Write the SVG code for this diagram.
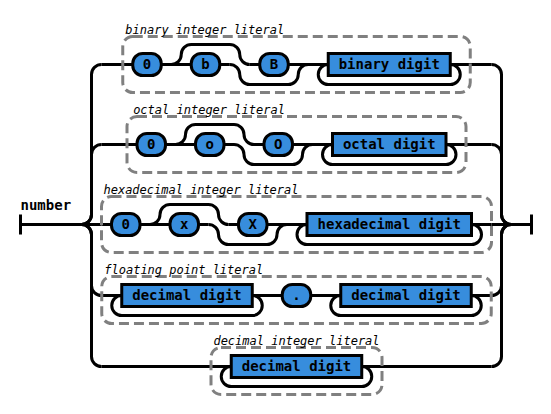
<svg xmlns="http://www.w3.org/2000/svg" width="551" height="414" viewBox="0 0 551 414">
<style>
path{stroke:#000;stroke-width:3;fill:none}
rect.t,rect.n{stroke:#000;stroke-width:3;fill:#378ddd}
rect.g{stroke:#808080;stroke-width:3;stroke-dasharray:10 5;fill:none}
text{font-family:"DejaVu Sans Mono","Liberation Mono",monospace;font-size:14px;font-weight:bold;text-anchor:middle;fill:#000}
text.c{font-size:12px;font-weight:normal;font-style:italic}
text.l{text-anchor:start}
</style>
<rect width="551" height="414" fill="#fff"/>
<g transform="translate(.5 .5)">
<g id="connectors">
<path d="M20 214v20m0 -10h61"/>
<path d="M81 224a10 10 0 0 0 10 -10V74a10 10 0 0 1 10 -10"/>
<path d="M81 224a10 10 0 0 0 10 -10V154a10 10 0 0 1 10 -10"/>
<path d="M81 224h20"/>
<path d="M81 224a10 10 0 0 1 10 10V285a10 10 0 0 0 10 10"/>
<path d="M81 224a10 10 0 0 1 10 10V356a10 10 0 0 0 10 10"/>
<path d="M491 64a10 10 0 0 1 10 10V214a10 10 0 0 0 10 10"/>
<path d="M491 144a10 10 0 0 1 10 10V214a10 10 0 0 0 10 10"/>
<path d="M491 224h20"/>
<path d="M491 295a10 10 0 0 0 10 -10V234a10 10 0 0 1 10 -10"/>
<path d="M491 366a10 10 0 0 0 10 -10V234a10 10 0 0 1 10 -10"/>
<path d="M511 224h20m0 -10v20"/>
<!-- binary -->
<path d="M101 64H229.25M249.25 64H491"/>
<path d="M170.75 64a10 10 0 0 0 10 -10a10 10 0 0 1 10 -10H229.25a10 10 0 0 1 10 10a10 10 0 0 0 10 10"/>
<path d="M229.25 64a10 10 0 0 1 10 10a10 10 0 0 0 10 10H287.75a10 10 0 0 0 10 -10a10 10 0 0 1 10 -10"/>
<path d="M327.75 64a10 10 0 0 0 -10 10a10 10 0 0 0 10 10H449.75a10 10 0 0 0 10 -10a10 10 0 0 0 -10 -10"/>
<!-- octal -->
<path d="M101 144H233.5M253.5 144H491"/>
<path d="M175 144a10 10 0 0 0 10 -10a10 10 0 0 1 10 -10H233.5a10 10 0 0 1 10 10a10 10 0 0 0 10 10"/>
<path d="M233.5 144a10 10 0 0 1 10 10a10 10 0 0 0 10 10H292a10 10 0 0 0 10 -10a10 10 0 0 1 10 -10"/>
<path d="M332 144a10 10 0 0 0 -10 10a10 10 0 0 0 10 10H445.5a10 10 0 0 0 10 -10a10 10 0 0 0 -10 -10"/>
<!-- hex -->
<path d="M101 224H208M228 224H491"/>
<path d="M149.5 224a10 10 0 0 0 10 -10a10 10 0 0 1 10 -10H208a10 10 0 0 1 10 10a10 10 0 0 0 10 10"/>
<path d="M208 224a10 10 0 0 1 10 10a10 10 0 0 0 10 10H266.5a10 10 0 0 0 10 -10a10 10 0 0 1 10 -10"/>
<path d="M306.5 224a10 10 0 0 0 -10 10a10 10 0 0 0 10 10H471a10 10 0 0 0 10 -10a10 10 0 0 0 -10 -10"/>
<!-- float -->
<path d="M101 295H491"/>
<path d="M121.25 295a10 10 0 0 0 -10 10a10 10 0 0 0 10 10H251.75a10 10 0 0 0 10 -10a10 10 0 0 0 -10 -10"/>
<path d="M340.25 295a10 10 0 0 0 -10 10a10 10 0 0 0 10 10H470.75a10 10 0 0 0 10 -10a10 10 0 0 0 -10 -10"/>
<!-- decimal -->
<path d="M101 366H491"/>
<path d="M230.75 366a10 10 0 0 0 -10 10a10 10 0 0 0 10 10H361.25a10 10 0 0 0 10 -10a10 10 0 0 0 -10 -10"/>
</g>
<g id="start"><text class="l" x="20" y="209">number</text></g>
<g id="binary-integer-literal"><rect class="g" x="122.25" y="36" width="347.5" height="56" rx="10" ry="10"/><text class="c" x="204.25" y="33">binary integer literal</text></g>
<g id="octal-integer-literal"><rect class="g" x="126.5" y="116" width="339" height="56" rx="10" ry="10"/><text class="c" x="208.5" y="113">octal integer literal</text></g>
<g id="hexadecimal-integer-literal"><rect class="g" x="101" y="196" width="390" height="56" rx="10" ry="10"/><text class="c" x="200.5" y="193">hexadecimal integer literal</text></g>
<g id="floating-point-literal"><rect class="g" x="101.25" y="276" width="389.5" height="47" rx="10" ry="10"/><text class="c" x="183.25" y="273">floating point literal</text></g>
<g id="decimal-integer-literal"><rect class="g" x="210.5" y="347" width="171" height="47" rx="10" ry="10"/><text class="c" x="296" y="344">decimal integer literal</text></g>
<g id="bin-0"><rect class="t" x="132.25" y="53" width="28.5" height="22" rx="10" ry="10"/><text x="146.5" y="68">0</text></g>
<g id="bin-b"><rect class="t" x="190.75" y="53" width="28.5" height="22" rx="10" ry="10"/><text x="205" y="68">b</text></g>
<g id="bin-B"><rect class="t" x="259.25" y="53" width="28.5" height="22" rx="10" ry="10"/><text x="273.5" y="68">B</text></g>
<g id="bin-digit"><rect class="n" x="327.75" y="53" width="122" height="22"/><text x="388.75" y="68">binary digit</text></g>
<g id="oct-0"><rect class="t" x="136.5" y="133" width="28.5" height="22" rx="10" ry="10"/><text x="150.75" y="148">0</text></g>
<g id="oct-o"><rect class="t" x="195" y="133" width="28.5" height="22" rx="10" ry="10"/><text x="209.25" y="148">o</text></g>
<g id="oct-O"><rect class="t" x="263.5" y="133" width="28.5" height="22" rx="10" ry="10"/><text x="277.75" y="148">O</text></g>
<g id="oct-digit"><rect class="n" x="332" y="133" width="113.5" height="22"/><text x="388.75" y="148">octal digit</text></g>
<g id="hex-0"><rect class="t" x="111" y="213" width="28.5" height="22" rx="10" ry="10"/><text x="125.25" y="228">0</text></g>
<g id="hex-x"><rect class="t" x="169.5" y="213" width="28.5" height="22" rx="10" ry="10"/><text x="183.75" y="228">x</text></g>
<g id="hex-X"><rect class="t" x="238" y="213" width="28.5" height="22" rx="10" ry="10"/><text x="252.25" y="228">X</text></g>
<g id="hex-digit"><rect class="n" x="306.5" y="213" width="164.5" height="22"/><text x="388.75" y="228">hexadecimal digit</text></g>
<g id="float-int"><rect class="n" x="121.25" y="284" width="130.5" height="22"/><text x="186.5" y="299">decimal digit</text></g>
<g id="float-dot"><rect class="t" x="281.75" y="284" width="28.5" height="22" rx="10" ry="10"/><text x="296" y="299">.</text></g>
<g id="float-frac"><rect class="n" x="340.25" y="284" width="130.5" height="22"/><text x="405.5" y="299">decimal digit</text></g>
<g id="dec-digit"><rect class="n" x="230.75" y="355" width="130.5" height="22"/><text x="296" y="370">decimal digit</text></g>
</g>
</svg>
